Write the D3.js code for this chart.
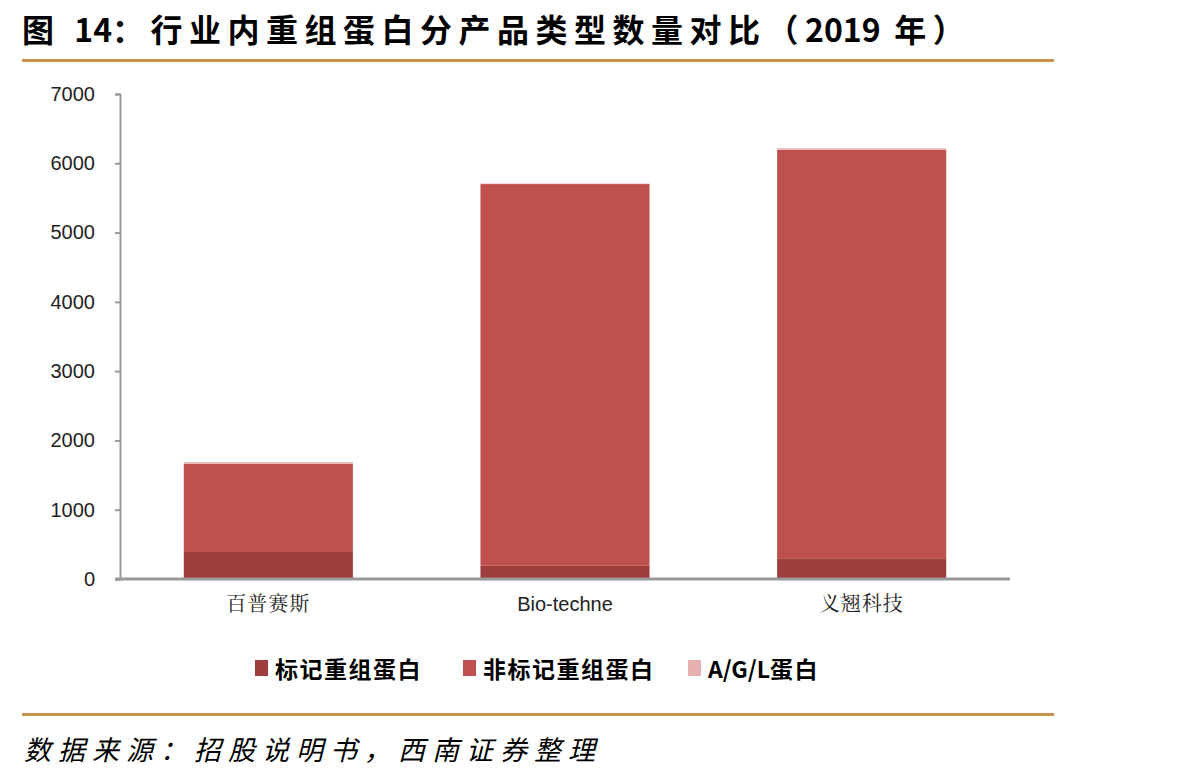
<!DOCTYPE html>
<html>
<head>
<meta charset="utf-8">
<script src="https://cdn.jsdelivr.net/npm/d3@7"></script>
<style>
  body { margin: 0; background: #fff; }
  svg { display: block; }
</style>
</head>
<body>
<div id="container"></div>
<script>
const w = 1204;
const h = 783;
const p = {top: 94, right: 194, bottom: 204, left: 120};

const companies = ['百普赛斯', 'Bio-techne', '义翘科技'];
const seriesNames = ['标记重组蛋白', '非标记重组蛋白', 'A/G/L蛋白'];
const labeled = [390, 190, 300];
const unlabeled = [1275, 5510, 5895];
const aglProtein = [22, 8, 22];
const yTicks = [0, 1000, 2000, 3000, 4000, 5000, 6000, 7000];

const colors = ['#9e3f3d', '#c0504d', '#e6b1b0'];
const gold = '#c9924a';

const rows = companies.map((c, i) => ({
  company: c,
  [seriesNames[0]]: labeled[i],
  [seriesNames[1]]: unlabeled[i],
  [seriesNames[2]]: aglProtein[i]
}));

const svg = d3.select('#container')
  .append('svg')
  .attr('width', w)
  .attr('height', h);

// letter spacing only between CJK glyphs, Latin runs stay tight
function spaced(text, str, ls) {
  str.split(/([A-Za-z0-9\/\-]+)/).filter(s => s).forEach(s => {
    text.append('tspan')
      .attr('letter-spacing', /[A-Za-z0-9]/.test(s) ? 0 : ls)
      .text(s);
  });
}

const title = svg.append('text')
  .attr('x', 22)
  .attr('y', 42)
  .attr('font-family', '"Noto Sans CJK SC", sans-serif')
  .attr('font-weight', 'bold')
  .attr('font-size', 32)
  .attr('fill', '#000');
spaced(title, '图 14：行业内重组蛋白分产品类型数量对比（2019 年）', 6.5);

svg.append('rect')
  .attr('x', 22).attr('y', 59)
  .attr('width', 1032).attr('height', 3)
  .attr('fill', gold);

const x = d3.scaleBand()
  .domain(companies)
  .range([p.left, w - p.right])
  .paddingInner(0.43)
  .paddingOuter(0.215);

const y = d3.scaleLinear()
  .domain([0, 7000])
  .range([h - p.bottom, p.top]);

const stack = d3.stack().keys(seriesNames)(rows);

svg.append('g')
  .selectAll('g')
  .data(stack)
  .join('g')
  .attr('fill', (d, i) => colors[i])
  .selectAll('rect')
  .data(d => d)
  .join('rect')
  .attr('x', d => x(d.data.company))
  .attr('y', d => y(d[1]))
  .attr('width', x.bandwidth())
  .attr('height', d => y(d[0]) - y(d[1]));

const yAxis = d3.axisLeft(y)
  .tickValues(yTicks)
  .tickFormat(d3.format('d'))
  .tickSize(5)
  .tickSizeOuter(5)
  .tickPadding(20);

svg.append('g')
  .attr('transform', 'translate(' + p.left + ',0)')
  .call(yAxis)
  .call(g => g.selectAll('path, line').attr('stroke', '#999').attr('stroke-width', 2))
  .call(g => g.selectAll('text')
    .attr('font-family', 'Arial, "Liberation Sans", sans-serif')
    .attr('font-size', 20)
    .attr('fill', '#222'));

const xAxis = d3.axisBottom(x)
  .tickSize(0)
  .tickPadding(18);

svg.append('g')
  .attr('transform', 'translate(0,' + (h - p.bottom) + ')')
  .call(xAxis)
  .call(g => g.select('.domain')
    .attr('d', 'M' + (p.left - 5) + ',0H' + (w - p.right))
    .attr('stroke', '#999').attr('stroke-width', 3))
  .call(g => g.selectAll('text')
    .attr('font-family', (d) => /^[A-Za-z]/.test(d) ? 'Arial, "Liberation Sans", sans-serif' : '"Noto Serif CJK SC", "Noto Sans CJK SC", serif')
    .attr('font-size', 20)
    .attr('letter-spacing', (d) => /^[A-Za-z]/.test(d) ? 0 : 1)
    .attr('fill', '#222'));

// legend
const legendX = [255, 463, 688];
const legend = svg.append('g');
seriesNames.forEach((s, i) => {
  legend.append('rect')
    .attr('x', legendX[i]).attr('y', 660)
    .attr('width', 13).attr('height', 16)
    .attr('fill', colors[i]);
  const t = legend.append('text')
    .attr('x', legendX[i] + 20).attr('y', 678)
    .attr('font-family', '"Noto Sans CJK SC", sans-serif')
    .attr('font-weight', 'bold')
    .attr('font-size', 23)
    .attr('fill', '#000');
  spaced(t, s, 1.5);
});

svg.append('rect')
  .attr('x', 22).attr('y', 713)
  .attr('width', 1032).attr('height', 3)
  .attr('fill', gold);

svg.append('text')
  .attr('x', 24)
  .attr('y', 760)
  .attr('font-family', '"Noto Sans CJK SC", sans-serif')
  .attr('font-style', 'italic')
  .attr('font-size', 27)
  .attr('letter-spacing', 7)
  .attr('fill', '#000')
  .text('数据来源：招股说明书，西南证券整理');
</script>
</body>
</html>
